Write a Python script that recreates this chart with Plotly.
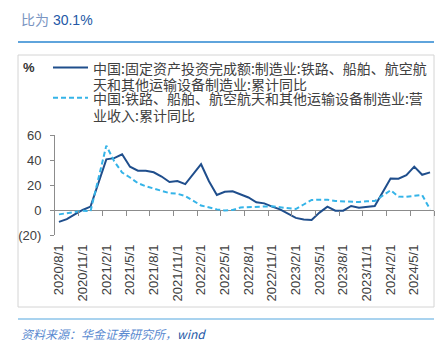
import pandas as pd
import plotly.graph_objects as go

# ---- data ----
months = [d.strftime("%Y/%-m/1") for d in pd.date_range("2020-08-01", periods=48, freq="MS")]

fai_yoy = [-9.5, -7.3, -3.5, 0.0, 2.7, None, 40.5, 41.5, 44.6, 34.6, 31.4, 31.4,
           30.2, 26.8, 22.4, 23.2, 20.7, None, 36.6, 23.0, 12.0, 14.6, 15.0, 12.5,
           10.0, 6.2, 5.3, 2.7, 0.5, None, -6.3, -7.6, -8.0, -2.1, 2.7, -0.6,
           -0.5, 3.2, 1.9, 2.7, 3.2, None, 25.2, 25.0, 27.8, 34.7, 28.2, 30.1]

rev_yoy = [-3.5, -2.5, -1.0, -0.6, -1.0, None, 51.5, 39.0, 30.0, 26.0, 21.5, 19.0,
           17.0, 15.5, 13.5, 13.0, 11.2, None, 3.6, 2.0, 0.5, -0.3, 0.0, 2.0,
           2.2, 2.8, 3.2, 3.0, 2.2, None, 0.8, 4.4, 8.0, 8.2, 8.3, 7.2,
           6.8, 6.5, 6.4, 7.0, 7.2, None, 15.8, 10.7, 10.6, 11.3, 12.0, 0.5]

tick_labels = ["2020/8/1", "2020/11/1", "2021/2/1", "2021/5/1", "2021/8/1", "2021/11/1",
               "2022/2/1", "2022/5/1", "2022/8/1", "2022/11/1", "2023/2/1", "2023/5/1",
               "2023/8/1", "2023/11/1", "2024/2/1", "2024/5/1"]
y_ticks = [-20, 0, 20, 40, 60]
y_tick_text = ["(20)", "0", "20", "40", "60"]

name1 = "中国:固定资产投资完成额:制造业:铁路、船舶、航空航天和其他运输设备制造业:累计同比"
name2 = "中国:铁路、船舶、航空航天和其他运输设备制造业:营业收入:累计同比"

# ---- figure ----
idx = list(range(len(months)))
tick_idx = [months.index(t) for t in tick_labels]
boundary_ticks = [i - 0.5 for i in tick_idx[1:]] + [len(months) - 0.5]

C1 = "#1F4E8C"
C2 = "#35B4E8"
GRAY = "#8C8C8C"
TXT = "#404040"
CJK = "Noto Sans CJK SC"
LAT = "Liberation Sans, Noto Sans CJK SC"

fig = go.Figure()
fig.add_trace(go.Scatter(x=idx, y=fai_yoy, mode="lines", name=name1, connectgaps=True,
                         line=dict(color=C1, width=2), showlegend=False))
fig.add_trace(go.Scatter(x=idx, y=rev_yoy, mode="lines", name=name2, connectgaps=True,
                         line=dict(color=C2, width=2, dash="5px,3px"), showlegend=False))
fig.add_trace(go.Scatter(x=[], y=[], xaxis="x2", showlegend=False, hoverinfo="skip"))

fig.update_layout(
    width=445, height=351,
    margin=dict(l=55, r=11, t=135, b=116),
    paper_bgcolor="white", plot_bgcolor="white",
    xaxis=dict(range=[-0.5, len(months) - 0.5], tickmode="array", tickvals=tick_idx,
               ticktext=tick_labels, tickangle=-90, ticks="", showgrid=False,
               showline=False, zeroline=False, ticklabelstandoff=6,
               tickfont=dict(family=LAT, size=13, color=TXT)),
    xaxis2=dict(overlaying="x", anchor="free", position=0.25,
                range=[-0.5, len(months) - 0.5], tickmode="array", tickvals=boundary_ticks,
                ticks="outside", ticklen=5, tickcolor=GRAY, showticklabels=False,
                showgrid=False, zeroline=False, showline=False),
    yaxis=dict(range=[-20, 60], tickmode="array", tickvals=y_ticks, ticktext=y_tick_text,
               ticks="outside", ticklen=4, tickcolor=GRAY, showline=True, linecolor=GRAY,
               linewidth=1, showgrid=False, zeroline=True, zerolinecolor=GRAY,
               zerolinewidth=1, ticklabelstandoff=6,
               tickfont=dict(family=LAT, size=13, color=TXT)),
)

W, H = 379.0, 100.0  # plot area size in px
def px(x):
    return (x - 55) / W
def py(y):
    return (235 - y) / H

# frame and rules
fig.add_shape(type="rect", xref="paper", yref="paper", x0=px(18), x1=px(434), y0=py(307), y1=py(55),
              line=dict(color="#D4D4D4", width=1), layer="below")
fig.add_shape(type="line", xref="paper", yref="paper", x0=px(18), x1=px(434), y0=py(42), y1=py(42),
              line=dict(color="#2A86D0", width=1.5))
fig.add_shape(type="line", xref="paper", yref="paper", x0=px(18), x1=px(434), y0=py(319), y1=py(319),
              line=dict(color="#8CC4EA", width=1.5))

# legend keys
fig.add_shape(type="line", xref="paper", yref="paper", x0=px(53), x1=px(88), y0=py(67.5), y1=py(67.5),
              line=dict(color=C1, width=2))
fig.add_shape(type="line", xref="paper", yref="paper", x0=px(53), x1=px(88), y0=py(97.7), y1=py(97.7),
              line=dict(color=C2, width=2, dash="5px,3px"))

legend_lines = [name1[:26], name1[26:], name2[:25], name2[25:]]
legend_y = [67.8, 84.0, 98.0, 114.5]
for t, yy in zip(legend_lines, legend_y):
    fig.add_annotation(xref="paper", yref="paper", x=px(91), y=py(yy), text=t, showarrow=False,
                       xanchor="left", yanchor="middle", font=dict(family=CJK, size=14, color=TXT))

fig.add_annotation(xref="paper", yref="paper", x=px(21), y=py(67), text="<b>%</b>", showarrow=False,
                   xanchor="left", yanchor="middle", font=dict(family=LAT, size=13, color="#333333"))

fig.add_annotation(xref="paper", yref="paper", x=px(19), y=py(20),
                   text="<span style='color:#7A95C2'>比为</span> <span style='color:#2458A6'>30.1%</span>",
                   showarrow=False, xanchor="left", yanchor="middle",
                   font=dict(family=LAT, size=14))

fig.add_annotation(xref="paper", yref="paper", x=px(19), y=py(333),
                   text="<i><span style='color:#5A8AD0'>资料来源：华金证券研究所，</span><span style='color:#2458A6'>wind</span></i>",
                   showarrow=False, xanchor="left", yanchor="middle",
                   font=dict(family=CJK, size=12))

fig.write_html("out.html")
